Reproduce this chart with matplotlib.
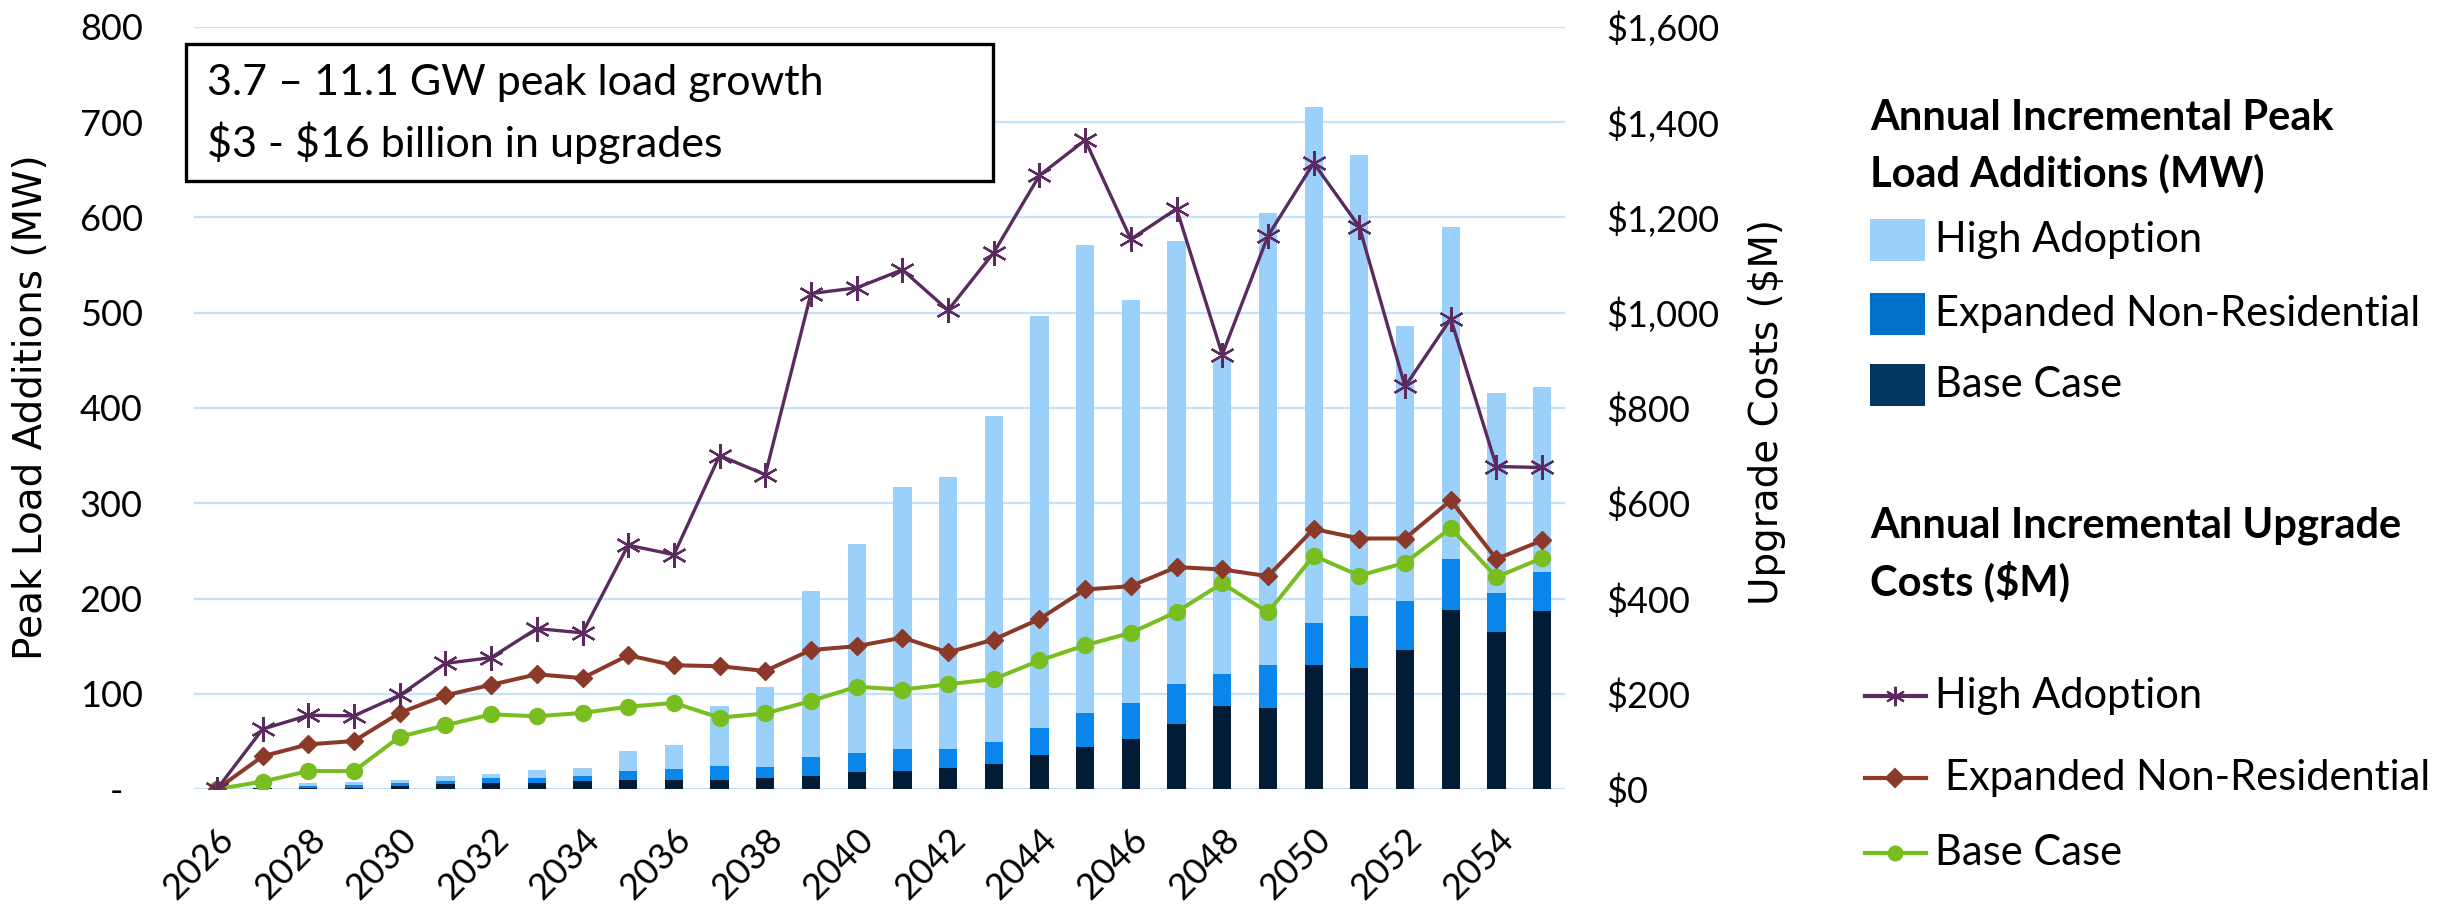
import numpy as np
import matplotlib.pyplot as plt
import matplotlib.transforms as mtransforms
from matplotlib.patches import Rectangle
from matplotlib.lines import Line2D

plt.rcParams["font.family"] = "Lato"

# Years
years = list(range(2026, 2056))

# Peak load additions (MW), scenario totals (bars overlap)
high_mw = [0, 1.5, 6, 7, 9.8, 13.3, 15.7, 19.6, 22.7, 40, 46, 87.5, 106.7, 207.5, 257,
           316.8, 328, 392, 496, 570.6, 512.8, 575, 451.5, 605, 716, 665, 486, 589.5, 416, 422]
exp_mw = [0, 1, 3.5, 4, 6, 8.7, 11.2, 12.2, 13.3, 19.2, 21, 24.5, 23.4, 34, 37.8,
          42.5, 42, 49.7, 63.7, 80.2, 90.7, 110.6, 120.8, 130.6, 174.7, 182, 197, 242, 205.5, 228]
base_mw = [0, 0.7, 1.7, 1.7, 2.8, 4.9, 6.0, 6.6, 8.4, 9.4, 10.1, 9.4, 11.2, 13.3, 17.8,
           19.4, 22.7, 25.9, 35.4, 44.1, 52.2, 68.3, 86.8, 84.7, 129.9, 127.0, 145.6, 188.3, 164.5, 186.6]

# Upgrade costs ($M)
high_cost = [0, 126, 155, 154, 197, 264, 276, 337, 328, 512, 492, 700, 660, 1040, 1052,
             1090, 1005, 1126, 1288, 1362, 1154, 1218, 912, 1161, 1314, 1180, 845, 987, 677, 675]
exp_cost = [0, 69, 94, 101, 160, 197, 219, 241, 233, 281, 260, 258, 248, 292, 300,
            318, 287, 314, 357, 419, 426, 466, 461, 447, 546, 526, 526, 606, 483, 522]
base_cost = [0, 16, 38, 38, 110, 134, 157, 153, 160, 173, 181, 150, 159, 185, 215,
             209, 220, 231, 270, 302, 328, 372, 432, 371, 490, 448, 475, 548, 445, 485]

c_light = "#9BD0FB"
c_mid = "#0A85EA"
c_dark = "#021C35"
c_purple = "#5B2A5E"
c_brown = "#8B3A2A"
c_green = "#78BE20"
c_grid = "#C4E2F9"

fig = plt.figure(figsize=(24.63, 9.05), dpi=100)
ax = fig.add_axes([0.0788, 0.128, 0.5566, 0.8425])
x = np.arange(len(years))

ax.bar(x, high_mw, width=0.4, color=c_light, zorder=2)
ax.bar(x, exp_mw, width=0.4, color=c_mid, zorder=3)
ax.bar(x, base_mw, width=0.4, color=c_dark, zorder=4)

ax.set_xlim(-0.5, len(years) - 0.5)
ax.set_ylim(0, 800)
ax.set_yticks(range(0, 801, 100))
ax.set_yticklabels(["-" if v == 0 else str(v) for v in range(0, 801, 100)])
ax.yaxis.grid(True, color=c_grid, linewidth=1.6)
ax.set_axisbelow(True)
for s in ax.spines.values():
    s.set_visible(False)
ax.tick_params(axis="y", length=0, pad=37, labelsize=26)
ax.set_xticks(x[::2])
ax.set_xticklabels([str(y) for y in years[::2]], rotation=45, ha="right", va="top",
                   rotation_mode="anchor")
ax.tick_params(axis="x", length=0, pad=24, labelsize=26)

# shift the "-" label left a bit
lab0 = ax.get_yticklabels()[0]
lab0.set_transform(lab0.get_transform() + mtransforms.ScaledTranslation(-0.2, 0, fig.dpi_scale_trans))

ax2 = ax.twinx()
ax2.set_ylim(0, 1600)
ax2.set_yticks(range(0, 1601, 200))
ax2.set_yticklabels([f"\\${v:,}" for v in range(0, 1601, 200)])
for s in ax2.spines.values():
    s.set_visible(False)
ax2.tick_params(axis="y", length=0, pad=30, labelsize=26)

ax2.plot(x, base_cost, color=c_green, lw=2.9, marker="o", ms=11.5, zorder=3)
ax2.plot(x, exp_cost, color=c_brown, lw=2.9, marker="D", ms=9, zorder=4)
ax2.plot(x, high_cost, color=c_purple, lw=2.4, marker=(6, 2, 0), ms=18, mew=1.6, zorder=5)

fig.text(31 / 2463, 0.55, "Peak Load Additions (MW)", family="DejaVu Sans", fontsize=28,
         rotation=90, ha="center", va="center")
fig.text(1767 / 2463, 0.545, "Upgrade Costs (\\$M)", family="DejaVu Sans", fontsize=28,
         rotation=90, ha="center", va="center")

# Summary box
fig.add_artist(Rectangle((0.0755, 0.800), 0.3277, 0.1514, transform=fig.transFigure,
                         facecolor="white", edgecolor="black", linewidth=2.4, zorder=5))
fig.text(0.084, 0.9083, "3.7 \u2013 11.1 GW peak load growth", fontsize=31, va="center", zorder=6)
fig.text(0.084, 0.842, "\\$3 - \\$16 billion in upgrades", fontsize=31, va="center", zorder=6)

# Legends
lx = 0.7593
fs = 30
fig.text(lx, 0.8696, "Annual Incremental Peak", fontsize=fs, weight="bold", va="center")
fig.text(lx, 0.8088, "Load Additions (MW)", fontsize=fs, weight="bold", va="center")
for yy, col, name in [(0.7348, c_light, "High Adoption"),
                      (0.6530, "#0070C8", "Expanded Non-Residential"),
                      (0.5746, "#00365F", "Base Case")]:
    fig.add_artist(Rectangle((lx, yy - 0.023), 55 / 2463, 0.046, transform=fig.transFigure,
                             facecolor=col, edgecolor="none"))
    fig.text(0.7856, yy, name, fontsize=fs, va="center")

fig.text(lx, 0.4188, "Annual Incremental Upgrade", fontsize=fs, weight="bold", va="center")
fig.text(lx, 0.358, "Costs (\\$M)", fontsize=fs, weight="bold", va="center")
for yy, col, mk, ms, name, tx in [(0.2309, c_purple, (6, 2, 0), 14, "High Adoption", 0.7856),
                                  (0.1403, c_brown, "D", 9, "Expanded Non-Residential", 0.7897),
                                  (0.0575, c_green, "o", 10, "Base Case", 0.7856)]:
    fig.add_artist(Line2D([lx - 0.002, lx + 0.0225], [yy, yy], transform=fig.transFigure,
                          color=col, lw=3))
    fig.add_artist(Line2D([lx + 0.0102], [yy], transform=fig.transFigure, color=col,
                          marker=mk, ms=ms, mew=1.5))
    fig.text(tx, yy, name, fontsize=fs, va="center")

fig.savefig("out.png", dpi=100)
